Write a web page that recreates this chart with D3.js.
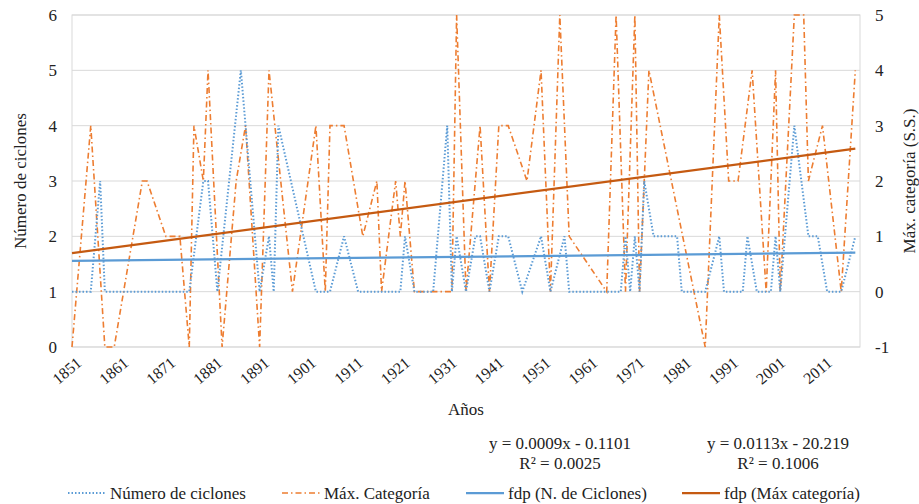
<!DOCTYPE html>
<html>
<head>
<meta charset="utf-8">
<script src="https://cdn.jsdelivr.net/npm/d3@7"></script>
<style>
  body { margin: 0; background: #fff; }
</style>
</head>
<body>
<script>
var width = 919,
    height = 504;
var serif = "'Liberation Serif', 'Times New Roman', serif";

// years with data (cyclone seasons); null = no point for that series
var years       = [1851,1855,1857,1858,1860,1866,1867,1871,1874,1876,1877,1879,1880,1882,1883,1886,1887,1888,1891,1893,1894,1895,1898,1903,1905,1906,1909,1912,1913,1916,1917,1920,1921,1922,1924,1928,1931,1932,1933,1935,1937,1938,1940,1942,1944,1947,1948,1951,1953,1955,1956,1957,1965,1967,1968,1969,1970,1971,1972,1973,1974,1975,1980,1981,1986,1989,1990,1991,1993,1994,1995,1996,1997,1999,2000,2001,2002,2005,2007,2008,2010,2011,2012,2015,2018];
var ciclones    = [1,1,3,1,null,null,null,null,null,1,null,3,3,1,null,null,5,null,1,2,1,4,null,1,null,1,2,1,null,null,null,null,1,2,1,1,4,1,2,1,2,2,1,2,2,1,null,2,1,null,2,1,null,null,1,2,1,2,1,3,null,2,2,1,1,2,1,null,null,1,2,null,1,null,1,2,1,4,null,2,2,null,1,1,2];
var maxCategoria = [-1,3,null,-1,-1,2,2,1,1,-1,3,2,4,null,-1,2,null,3,-1,4,null,null,0,3,0,3,3,null,1,2,0,2,1,2,0,0,0,0,5,0,null,3,0,3,3,null,2,4,0,5,null,1,0,5,null,0,null,5,0,null,4,null,null,null,-1,5,null,2,2,null,null,4,null,0,null,4,0,5,5,2,null,3,null,0,4];

var xTicks = d3.range(1851, 2012, 10);
var leftTicks = [0, 1, 2, 3, 4, 5, 6];
var rightTicks = [-1, 0, 1, 2, 3, 4, 5];

// trend lines as printed on the chart
var trendCiclones = { m: 0.0009, b: -0.1101, eq: "y = 0.0009x - 0.1101", r2: "R² = 0.0025" };
var trendCategoria = { m: 0.0113, b: -20.219, eq: "y = 0.0113x - 20.219", r2: "R² = 0.1006" };

var blue = "#5b9bd5", orange = "#ed7d31", orangeDark = "#c55a11";

var plot = { left: 72, right: 860, top: 15, bottom: 347 };

var x = d3.scaleLinear().domain([1851, 2019]).range([plot.left, plot.right]);
var yL = d3.scaleLinear().domain([0, 6]).range([plot.bottom, plot.top]);
var yR = d3.scaleLinear().domain([-1, 5]).range([plot.bottom, plot.top]);

var svg = d3.select("body").append("svg")
    .attr("width", width)
    .attr("height", height)
    .attr("font-family", serif);

// gridlines
svg.append("g").selectAll("line")
    .data(leftTicks)
    .enter().append("line")
    .attr("x1", plot.left).attr("x2", plot.right)
    .attr("y1", function(d) { return yL(d); })
    .attr("y2", function(d) { return yL(d); })
    .attr("stroke", "#d9d9d9").attr("stroke-width", 1);

svg.append("rect")
    .attr("x", plot.left).attr("y", plot.top)
    .attr("width", plot.right - plot.left).attr("height", plot.bottom - plot.top)
    .attr("fill", "none").attr("stroke", "#d9d9d9");

// axes
var gx = svg.append("g")
    .attr("transform", "translate(0," + plot.bottom + ")")
    .call(d3.axisBottom(x).tickValues(xTicks).tickFormat(String).tickSize(0).tickPadding(0));
gx.attr("font-family", serif);
gx.select(".domain").remove();
gx.selectAll("text")
    .attr("font-size", 16)
    .attr("fill", "#222")
    .attr("text-anchor", "end")
    .attr("transform", "translate(3,9) rotate(-40)")
    .attr("dy", "0.7em");

var gl = svg.append("g")
    .attr("transform", "translate(" + plot.left + ",0)")
    .call(d3.axisLeft(yL).tickValues(leftTicks).tickFormat(String).tickSize(0).tickPadding(15));
gl.attr("font-family", serif);
gl.select(".domain").remove();
gl.selectAll("text").attr("font-size", 17).attr("fill", "#222");

var gr = svg.append("g")
    .attr("transform", "translate(" + plot.right + ",0)")
    .call(d3.axisRight(yR).tickValues(rightTicks).tickFormat(String).tickSize(0).tickPadding(15));
gr.attr("font-family", serif);
gr.select(".domain").remove();
gr.selectAll("text").attr("font-size", 17).attr("fill", "#222");

// axis titles
svg.append("text")
    .attr("transform", "translate(20," + ((plot.top + plot.bottom) / 2) + ") rotate(-90)")
    .attr("text-anchor", "middle").attr("dominant-baseline", "central")
    .attr("font-size", 17).attr("fill", "#222")
    .text("Número de ciclones");

svg.append("text")
    .attr("transform", "translate(909," + ((plot.top + plot.bottom) / 2) + ") rotate(-90)")
    .attr("text-anchor", "middle").attr("dominant-baseline", "central")
    .attr("font-size", 17).attr("fill", "#222")
    .text("Máx. categoría (S.S.)");

svg.append("text")
    .attr("x", (plot.left + plot.right) / 2).attr("y", 409)
    .attr("text-anchor", "middle").attr("dominant-baseline", "central")
    .attr("font-size", 17).attr("fill", "#222")
    .text("Años");

// data series
var ptsCiclones = years.map(function(d, i) { return [d, ciclones[i]]; })
    .filter(function(d) { return d[1] != null; });
var ptsCategoria = years.map(function(d, i) { return [d, maxCategoria[i]]; })
    .filter(function(d) { return d[1] != null; });

var lineL = d3.line().x(function(d) { return x(d[0]); }).y(function(d) { return yL(d[1]); });
var lineR = d3.line().x(function(d) { return x(d[0]); }).y(function(d) { return yR(d[1]); });

svg.append("path")
    .datum(ptsCategoria)
    .attr("d", lineR)
    .attr("fill", "none")
    .attr("stroke", orange).attr("stroke-width", 1.6)
    .attr("stroke-dasharray", "6,3,1.5,3");

svg.append("path")
    .datum(ptsCiclones)
    .attr("d", lineL)
    .attr("fill", "none")
    .attr("stroke", blue).attr("stroke-width", 2)
    .attr("stroke-dasharray", "1.5,2");

// trend lines across the plotted years
var tEnds = [d3.min(years), d3.max(years)];
svg.append("path")
    .datum(tEnds.map(function(t) { return [t, trendCiclones.m * t + trendCiclones.b]; }))
    .attr("d", lineL)
    .attr("fill", "none").attr("stroke", blue).attr("stroke-width", 2.25);

svg.append("path")
    .datum(tEnds.map(function(t) { return [t, trendCategoria.m * t + trendCategoria.b]; }))
    .attr("d", lineR)
    .attr("fill", "none").attr("stroke", orangeDark).attr("stroke-width", 2.25);

// equations
[[560, trendCiclones], [778, trendCategoria]].forEach(function(e) {
    svg.append("text")
        .attr("x", e[0]).attr("y", 443)
        .attr("text-anchor", "middle").attr("dominant-baseline", "central")
        .attr("font-size", 17).attr("fill", "#222")
        .text(e[1].eq);
    svg.append("text")
        .attr("x", e[0]).attr("y", 463)
        .attr("text-anchor", "middle").attr("dominant-baseline", "central")
        .attr("font-size", 17).attr("fill", "#222")
        .text(e[1].r2);
});

// legend
var legend = [
    { x: 68, label: "Número de ciclones", color: blue, dash: "1.5,2", w: 2 },
    { x: 282, label: "Máx. Categoría", color: orange, dash: "6,3,1.5,3", w: 1.6 },
    { x: 466, label: "fdp (N. de Ciclones)", color: blue, dash: null, w: 2.25 },
    { x: 682, label: "fdp (Máx categoría)", color: orangeDark, dash: null, w: 2.25 }
];
var lg = svg.append("g").selectAll("g")
    .data(legend)
    .enter().append("g")
    .attr("transform", function(d) { return "translate(" + d.x + ",493)"; });
lg.append("line")
    .attr("x1", 0).attr("x2", 38)
    .attr("stroke", function(d) { return d.color; })
    .attr("stroke-width", function(d) { return d.w; })
    .attr("stroke-dasharray", function(d) { return d.dash; });
lg.append("text")
    .attr("x", 42)
    .attr("dominant-baseline", "central")
    .attr("font-size", 17).attr("fill", "#222")
    .text(function(d) { return d.label; });
</script>
</body>
</html>
